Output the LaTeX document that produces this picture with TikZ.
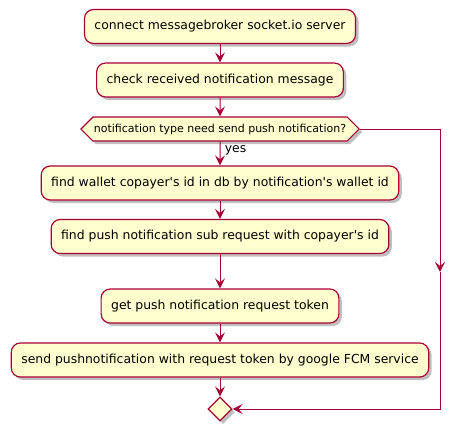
\documentclass[tikz,border=0pt]{standalone}
\usepackage{fontspec}
\setmainfont{DejaVu Sans}
\usetikzlibrary{shapes.geometric, shapes.symbols, arrows.meta, shadows}
\definecolor{umlfill}{HTML}{FEFECE}
\definecolor{umlline}{HTML}{A80036}
\newcommand{\q}{\textquotesingle}
\tikzset{
  every picture/.style={font={\fontsize{12.4}{14}\selectfont}, >={Stealth[length=10pt,width=10pt,inset=4pt]}},
  umlshadow/.style={drop shadow={shadow xshift=3pt, shadow yshift=-3pt, fill=black, opacity=0.25}},
  activity/.style={rectangle, rounded corners=9pt, draw=umlline, fill=umlfill,
    line width=1.2pt, minimum height=34pt, inner xsep=10pt, umlshadow},
  decision/.style={signal, signal to=west and east, signal pointer angle=90,
    draw=umlline, fill=umlfill, line width=1.2pt, minimum height=24pt,
    inner xsep=1pt, font={\fontsize{11}{13}\selectfont}, umlshadow},
  merge/.style={diamond, draw=umlline, fill=umlfill, line width=1.2pt,
    minimum size=24pt, inner sep=0pt, umlshadow},
  flow/.style={->, draw=umlline, line width=1pt}}

\begin{document}
\begin{tikzpicture}[x=1pt, y=-1pt]
    \useasboundingbox (0,0) rectangle (465,432);
    \node [activity] (connect) at (220,26.5) {connect messagebroker socket.io server};
    \node [activity] (check) at (220,80) {check received notification message};
    \node [decision] (need) at (220,129) {notification type need send push notification?};
    \node [activity] (wallet) at (220,183) {find wallet copayer\q s id in db by notification\q s wallet id};
    \node [activity] (subreq) at (220,236.5) {find push notification sub request with copayer\q s id};
    \node [activity] (token) at (220,306) {get push notification request token};
    \node [activity] (send) at (220,360) {send pushnotification with request token by google FCM service};
    \node [merge] (endif) at (220,409) {};
    \coordinate (skip) at (440,272);

    \draw [flow] (connect) -- (check);
    \draw [flow] (check) -- (need);
    \draw [flow] (need) -- node [right, xshift=1pt, yshift=3pt] {yes} (wallet);
    \draw [flow] (wallet) -- (subreq);
    \draw [flow] (subreq) -- (token);
    \draw [flow] (token) -- (send);
    \draw [flow] (send) -- (endif);
    \draw [flow] (need.east) -| (skip);
    \draw [flow] (skip) |- (endif.east);
  \end{tikzpicture}
\end{document}
